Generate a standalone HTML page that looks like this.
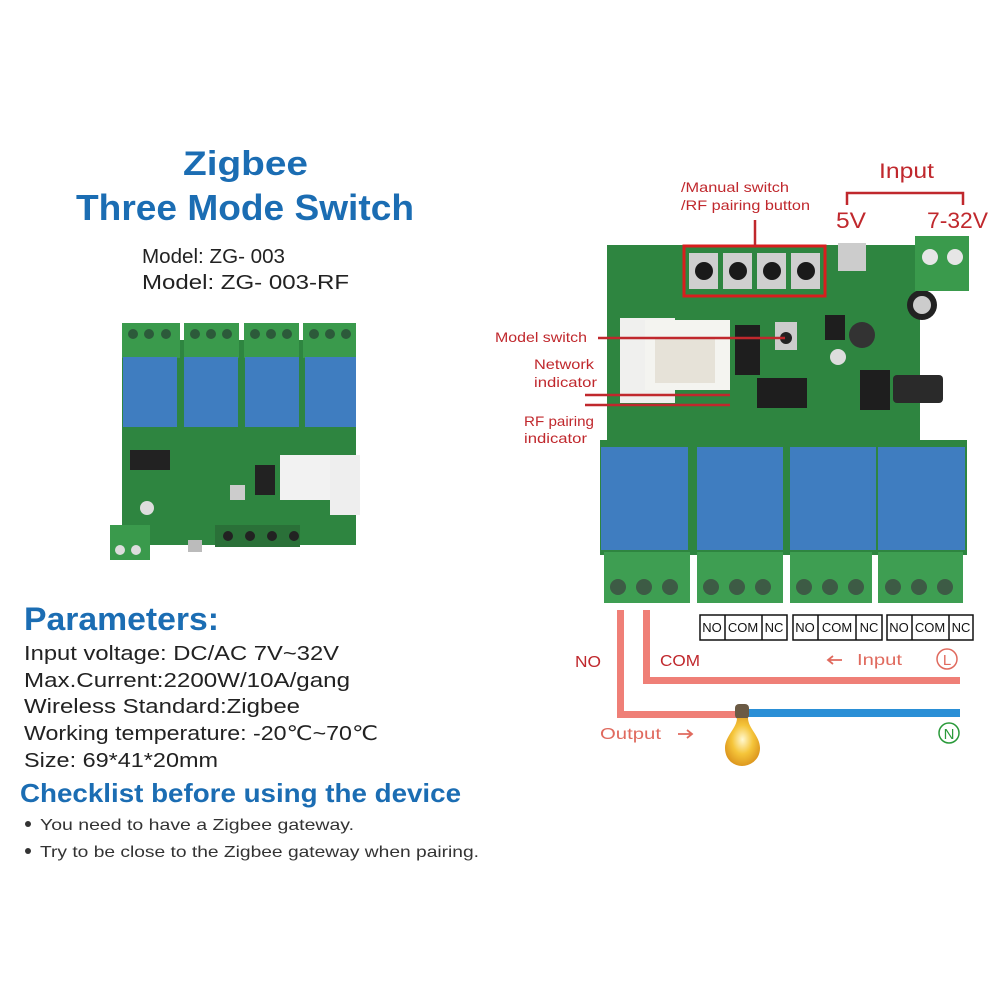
<!DOCTYPE html>
<html><head><meta charset="utf-8"><style>
html,body{margin:0;padding:0;background:#fff;}
svg{display:block;font-family:"Liberation Sans","DejaVu Sans",sans-serif;}
</style></head><body>
<svg width="1000" height="1000" viewBox="0 0 1000 1000" xmlns="http://www.w3.org/2000/svg">
<defs>
<radialGradient id="bulb" cx="0.5" cy="0.45" r="0.6"><stop offset="0" stop-color="#fff8d0"/><stop offset="0.5" stop-color="#f5c53a"/><stop offset="1" stop-color="#d9901a"/></radialGradient>
</defs>
<rect width="1000" height="1000" fill="#fff"/>

<!-- Title -->
<g fill="#1b6db3" font-weight="bold">
<text x="183" y="175" font-size="34" textLength="125" lengthAdjust="spacingAndGlyphs">Zigbee</text>
<text x="76" y="220" font-size="36" textLength="338" lengthAdjust="spacingAndGlyphs">Three Mode Switch</text>
</g>
<g fill="#222" font-size="20">
<text x="142" y="263" textLength="143" lengthAdjust="spacingAndGlyphs">Model:  ZG- 003</text>
<text x="142" y="289" textLength="207" lengthAdjust="spacingAndGlyphs">Model:  ZG- 003-RF</text>
</g>

<!-- Left board -->
<g>
<rect x="122" y="340" width="234" height="205" fill="#2e8540"/>
<rect x="330" y="455" width="30" height="60" fill="#eee"/>
<rect x="122" y="323" width="58" height="35" fill="#3a9a4c"/>
<rect x="184" y="323" width="55" height="35" fill="#3a9a4c"/>
<rect x="244" y="323" width="55" height="35" fill="#3a9a4c"/>
<rect x="303" y="323" width="53" height="35" fill="#3a9a4c"/>
<g fill="#2c5a3a">
<circle cx="133" cy="334" r="5"/><circle cx="149" cy="334" r="5"/><circle cx="166" cy="334" r="5"/>
<circle cx="195" cy="334" r="5"/><circle cx="211" cy="334" r="5"/><circle cx="227" cy="334" r="5"/>
<circle cx="255" cy="334" r="5"/><circle cx="271" cy="334" r="5"/><circle cx="287" cy="334" r="5"/>
<circle cx="314" cy="334" r="5"/><circle cx="330" cy="334" r="5"/><circle cx="346" cy="334" r="5"/>
</g>
<rect x="123" y="357" width="54" height="70" fill="#3f7dc0"/>
<rect x="184" y="357" width="54" height="70" fill="#3f7dc0"/>
<rect x="245" y="357" width="54" height="70" fill="#3f7dc0"/>
<rect x="305" y="357" width="51" height="70" fill="#3f7dc0"/>
<rect x="130" y="450" width="40" height="20" fill="#222"/>
<rect x="280" y="455" width="50" height="45" fill="#f2f2f2"/>
<rect x="255" y="465" width="20" height="30" fill="#222"/>
<rect x="230" y="485" width="15" height="15" fill="#ccc"/>
<rect x="215" y="525" width="85" height="22" fill="#2a7038"/>
<g fill="#222"><circle cx="228" cy="536" r="5"/><circle cx="250" cy="536" r="5"/><circle cx="272" cy="536" r="5"/><circle cx="294" cy="536" r="5"/></g>
<circle cx="147" cy="508" r="7" fill="#ddd"/>
<rect x="110" y="525" width="40" height="35" fill="#3a9a4c"/>
<circle cx="120" cy="550" r="5" fill="#ddd"/><circle cx="136" cy="550" r="5" fill="#ddd"/>
<rect x="188" y="540" width="14" height="12" fill="#bbb"/>
</g>

<!-- Parameters -->
<text x="24" y="630" font-size="32" font-weight="bold" fill="#1b6db3" textLength="195" lengthAdjust="spacingAndGlyphs">Parameters:</text>
<g fill="#222" font-size="20">
<text x="24" y="660" textLength="315" lengthAdjust="spacingAndGlyphs">Input voltage:  DC/AC 7V~32V</text>
<text x="24" y="687" textLength="326" lengthAdjust="spacingAndGlyphs">Max.Current:2200W/10A/gang</text>
<text x="24" y="713" textLength="276" lengthAdjust="spacingAndGlyphs">Wireless Standard:Zigbee</text>
<text x="24" y="740" textLength="354" lengthAdjust="spacingAndGlyphs">Working temperature: -20℃~70℃</text>
<text x="24" y="767" textLength="194" lengthAdjust="spacingAndGlyphs">Size: 69*41*20mm</text>
</g>
<text x="20" y="802" font-size="26" font-weight="bold" fill="#1b6db3" textLength="441" lengthAdjust="spacingAndGlyphs">Checklist before using the device</text>
<g fill="#333" font-size="16">
<circle cx="28" cy="824" r="3"/><circle cx="28" cy="851" r="3"/>
<text x="40" y="830" textLength="314" lengthAdjust="spacingAndGlyphs">You need to have a Zigbee gateway.</text>
<text x="40" y="857" textLength="439" lengthAdjust="spacingAndGlyphs">Try to be close to the Zigbee gateway when pairing.</text>
</g>

<!-- Right board -->
<g>
<path d="M607 245 H920 V445 H607 Z" fill="#2e8540"/>
<rect x="600" y="440" width="367" height="115" fill="#2e8540"/>
<rect x="620" y="318" width="55" height="85" fill="#f0f0ee"/>
<rect x="645" y="320" width="85" height="70" fill="#f4f4f0"/>
<rect x="655" y="338" width="60" height="45" fill="#e6e2d8"/>
<rect x="735" y="325" width="25" height="50" fill="#1e1e1e"/>
<rect x="757" y="378" width="50" height="30" fill="#1e1e1e"/>
<rect x="775" y="322" width="22" height="28" fill="#ccc"/><circle cx="786" cy="338" r="6" fill="#222"/>
<rect x="825" y="315" width="20" height="25" fill="#1e1e1e"/>
<circle cx="862" cy="335" r="13" fill="#333"/>
<circle cx="838" cy="357" r="8" fill="#ddd"/>
<circle cx="922" cy="305" r="15" fill="#222"/><circle cx="922" cy="305" r="9" fill="#ccc"/>
<rect x="893" y="375" width="50" height="28" fill="#2a2a2a" rx="4"/>
<rect x="860" y="370" width="30" height="40" fill="#1e1e1e"/>
<rect x="838" y="243" width="28" height="28" fill="#ccc"/>
<rect x="915" y="236" width="54" height="55" fill="#3a9a4c"/>
<circle cx="930" cy="257" r="8" fill="#e6e6e6"/><circle cx="955" cy="257" r="8" fill="#e6e6e6"/>
<rect x="686" y="248" width="137" height="46" fill="#2e8540"/>
<g fill="#cfcfcf"><rect x="689" y="253" width="29" height="36"/><rect x="723" y="253" width="29" height="36"/><rect x="757" y="253" width="29" height="36"/><rect x="791" y="253" width="29" height="36"/></g>
<g fill="#1a1a1a"><circle cx="704" cy="271" r="9"/><circle cx="738" cy="271" r="9"/><circle cx="772" cy="271" r="9"/><circle cx="806" cy="271" r="9"/></g>
<rect x="684" y="246" width="141" height="50" fill="none" stroke="#d81e1e" stroke-width="3"/>
<g fill="#3f7dc0">
<rect x="601" y="447" width="87" height="103"/><rect x="697" y="447" width="86" height="103"/>
<rect x="790" y="447" width="86" height="103"/><rect x="878" y="447" width="87" height="103"/>
</g>
<g fill="#3e9e52">
<rect x="604" y="552" width="86" height="51"/><rect x="697" y="552" width="86" height="51"/>
<rect x="790" y="552" width="82" height="51"/><rect x="878" y="552" width="85" height="51"/>
</g>
<g fill="#3d5b45">
<circle cx="618" cy="587" r="8"/><circle cx="644" cy="587" r="8"/><circle cx="670" cy="587" r="8"/>
<circle cx="711" cy="587" r="8"/><circle cx="737" cy="587" r="8"/><circle cx="763" cy="587" r="8"/>
<circle cx="804" cy="587" r="8"/><circle cx="830" cy="587" r="8"/><circle cx="856" cy="587" r="8"/>
<circle cx="893" cy="587" r="8"/><circle cx="919" cy="587" r="8"/><circle cx="945" cy="587" r="8"/>
</g>
</g>

<!-- Right labels -->
<g fill="#c0282d" font-size="14">
<text x="681" y="192" textLength="108" lengthAdjust="spacingAndGlyphs">/Manual switch</text>
<text x="681" y="210" textLength="129" lengthAdjust="spacingAndGlyphs">/RF pairing button</text>
<text x="495" y="342" textLength="92" lengthAdjust="spacingAndGlyphs">Model switch</text>
<text x="534" y="369" textLength="60" lengthAdjust="spacingAndGlyphs">Network</text>
<text x="534" y="387" textLength="63" lengthAdjust="spacingAndGlyphs">indicator</text>
<text x="524" y="426" textLength="70" lengthAdjust="spacingAndGlyphs">RF pairing</text>
<text x="524" y="443" textLength="63" lengthAdjust="spacingAndGlyphs">indicator</text>
</g>
<text x="879" y="178" font-size="21" fill="#c0282d" textLength="55" lengthAdjust="spacingAndGlyphs">Input</text>
<text x="836" y="228" font-size="22" fill="#c0282d" textLength="30" lengthAdjust="spacingAndGlyphs">5V</text>
<text x="927" y="228" font-size="22" fill="#c0282d" textLength="61" lengthAdjust="spacingAndGlyphs">7-32V</text>
<g stroke="#c0282d" stroke-width="2.5" fill="none">
<path d="M847 205 V193 H963 V205"/>
<path d="M755 220 V246"/>
<path d="M598 338 H785"/>
<path d="M585 395 H730"/>
<path d="M585 405 H730"/>
</g>

<!-- NO COM NC tables -->
<g font-size="13" fill="#111" stroke="#111" stroke-width="1.5">
<g fill="#fff"><rect x="700" y="615" width="87" height="25"/><rect x="793" y="615" width="89" height="25"/><rect x="887" y="615" width="86" height="25"/></g>
<path d="M725 615 V640 M762 615 V640 M818 615 V640 M856 615 V640 M912 615 V640 M949 615 V640"/>
</g>
<g font-size="13" fill="#111" text-anchor="middle">
<text x="712" y="632">NO</text><text x="743" y="632">COM</text><text x="774" y="632">NC</text>
<text x="805" y="632">NO</text><text x="837" y="632">COM</text><text x="869" y="632">NC</text>
<text x="899" y="632">NO</text><text x="930" y="632">COM</text><text x="961" y="632">NC</text>
</g>

<!-- Wiring -->
<path d="M617 610 V718 H745 V711 H624 V610 Z" fill="#ef7f77"/>
<path d="M643 610 V684 H960 V677 H650 V610 Z" fill="#ef7f77"/>
<rect x="745" y="709" width="215" height="8" fill="#2a8fd6"/>
<text x="575" y="667" font-size="16" fill="#c0282d" textLength="26" lengthAdjust="spacingAndGlyphs">NO</text>
<text x="660" y="666" font-size="16" fill="#c0282d" textLength="40" lengthAdjust="spacingAndGlyphs">COM</text>
<text x="600" y="739" font-size="16" fill="#e06a5e" textLength="61" lengthAdjust="spacingAndGlyphs">Output</text>
<g stroke="#e06a5e" stroke-width="1.8" fill="none">
<path d="M678 734 H692 M687 730 L692 734 L687 738"/>
<path d="M842 660 H828 M833 656 L828 660 L833 664"/>
</g>
<text x="857" y="665" font-size="16" fill="#e06a5e" textLength="45" lengthAdjust="spacingAndGlyphs">Input</text>
<circle cx="947" cy="659" r="10" fill="none" stroke="#e06a5e" stroke-width="1.5"/>
<text x="947" y="665" font-size="15" fill="#e06a5e" text-anchor="middle">L</text>
<circle cx="949" cy="733" r="10" fill="none" stroke="#2a9a3a" stroke-width="1.5"/>
<text x="949" y="739" font-size="15" fill="#2a9a3a" text-anchor="middle">N</text>
<rect x="735" y="704" width="14" height="15" rx="4" fill="#6b5a44"/>
<path d="M737 718 C737 728 725 736 725 748 C725 760 734 766 742 766 C750 766 760 760 760 748 C760 736 748 728 748 718 Z" fill="url(#bulb)"/>
</svg>
</body></html>
